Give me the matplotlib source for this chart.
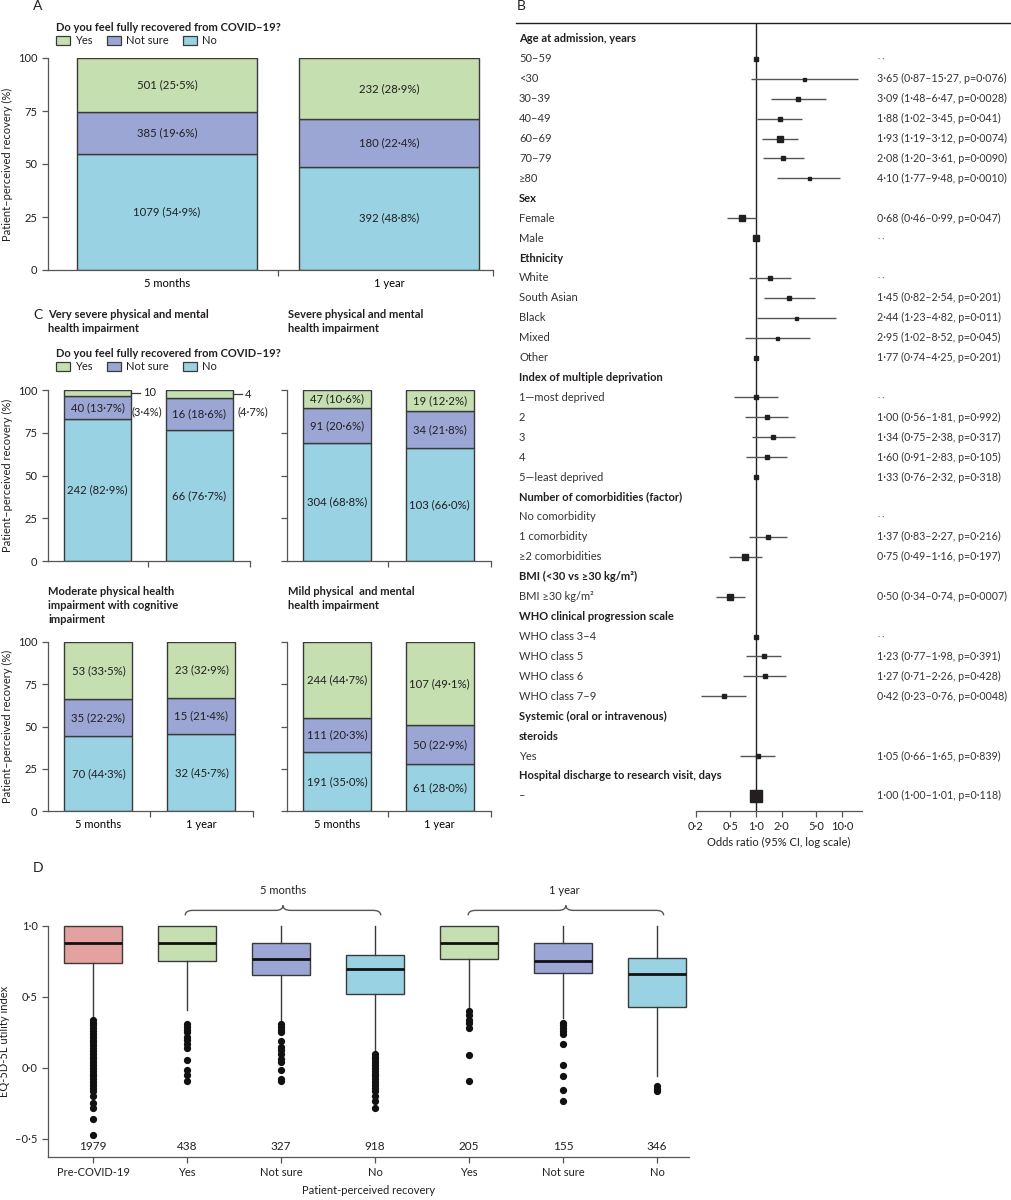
import matplotlib
matplotlib.use('Agg')
import matplotlib.pyplot as plt
import matplotlib.transforms as mtrans
from matplotlib.patches import Patch, PathPatch
from matplotlib.path import Path
from matplotlib.lines import Line2D
import numpy as np

plt.rcParams['font.family'] = ['Lato', 'DejaVu Sans']
plt.rcParams['font.size'] = 8

# ---------------- DATA ----------------
timepoints = ["5 months", "1 year"]
response_labels = ["Yes", "Not sure", "No"]

# Panel A (overall)
a_no_n = [1079, 392];   a_no_pct = [54.9, 48.8]
a_ns_n = [385, 180];    a_ns_pct = [19.6, 22.4]
a_yes_n = [501, 232];   a_yes_pct = [25.5, 28.9]

# Panel C (clusters)
c_titles = ["Very severe physical and mental\nhealth impairment",
            "Severe physical and mental\nhealth impairment",
            "Moderate physical health\nimpairment with cognitive\nimpairment",
            "Mild physical  and mental\nhealth impairment"]
c_no_n = [[242, 66], [304, 103], [70, 32], [191, 61]]
c_no_pct = [[82.9, 76.7], [68.8, 66.0], [44.3, 45.7], [35.0, 28.0]]
c_ns_n = [[40, 16], [91, 34], [35, 15], [111, 50]]
c_ns_pct = [[13.7, 18.6], [20.6, 21.8], [22.2, 21.4], [20.3, 22.9]]
c_yes_n = [[10, 4], [47, 19], [53, 23], [244, 107]]
c_yes_pct = [[3.4, 4.7], [10.6, 12.2], [33.5, 32.9], [44.7, 49.1]]

# Panel B (forest plot) rows
f_labels = ["Age at admission, years", "50–59", "<30", "30–39", "40–49", "60–69", "70–79", "≥80",
            "Sex", "Female", "Male",
            "Ethnicity", "White", "South Asian", "Black", "Mixed", "Other",
            "Index of multiple deprivation", "1—most deprived", "2", "3", "4", "5—least deprived",
            "Number of comorbidities (factor)", "No comorbidity", "1 comorbidity", "≥2 comorbidities",
            "BMI (<30 vs ≥30 kg/m²)", "BMI ≥30 kg/m²",
            "WHO clinical progression scale", "WHO class 3–4", "WHO class 5", "WHO class 6", "WHO class 7–9",
            "Systemic (oral or intravenous)", "steroids", "Yes",
            "Hospital discharge to research visit, days", "–"]
f_header = [1, 0, 0, 0, 0, 0, 0, 0,
            1, 0, 0,
            1, 0, 0, 0, 0, 0,
            1, 0, 0, 0, 0, 0,
            1, 0, 0, 0,
            1, 0,
            1, 0, 0, 0, 0,
            1, 1, 0,
            1, 0]
f_text = ["", "··", "3·65 (0·87–15·27, p=0·076)", "3·09 (1·48–6·47, p=0·0028)", "1·88 (1·02–3·45, p=0·041)",
          "1·93 (1·19–3·12, p=0·0074)", "2·08 (1·20–3·61, p=0·0090)", "4·10 (1·77–9·48, p=0·0010)",
          "", "0·68 (0·46–0·99, p=0·047)", "··",
          "", "··", "1·45 (0·82–2·54, p=0·201)", "2·44 (1·23–4·82, p=0·011)", "2·95 (1·02–8·52, p=0·045)",
          "1·77 (0·74–4·25, p=0·201)",
          "", "··", "1·00 (0·56–1·81, p=0·992)", "1·34 (0·75–2·38, p=0·317)", "1·60 (0·91–2·83, p=0·105)",
          "1·33 (0·76–2·32, p=0·318)",
          "", "··", "1·37 (0·83–2·27, p=0·216)", "0·75 (0·49–1·16, p=0·197)",
          "", "0·50 (0·34–0·74, p=0·0007)",
          "", "··", "1·23 (0·77–1·98, p=0·391)", "1·27 (0·71–2·26, p=0·428)", "0·42 (0·23–0·76, p=0·0048)",
          "", "", "1·05 (0·66–1·65, p=0·839)",
          "", "1·00 (1·00–1·01, p=0·118)"]
# plotted markers as drawn in the figure (row index, OR, lower, upper, weight)
f_rows = [1, 2, 3, 4, 5, 6, 7, 9, 10, 12, 13, 14, 15, 16, 18, 19, 20, 21, 22, 25, 26, 28, 30, 31, 32, 33, 36, 38]
f_or = [1.00, 3.65, 3.09, 1.88, 1.93, 2.08, 4.10, 0.68, 1.00, 1.45, 2.44, 2.95, 1.77, 1.00,
        1.00, 1.34, 1.60, 1.33, 1.00, 1.37, 0.75, 0.50, 1.00, 1.23, 1.27, 0.42, 1.05, 1.00]
f_lo = [None, 0.87, 1.48, 1.02, 1.19, 1.20, 1.77, 0.46, None, 0.82, 1.23, 1.02, 0.74, None,
        0.56, 0.75, 0.91, 0.76, None, 0.83, 0.49, 0.34, None, 0.77, 0.71, 0.23, 0.66, 1.00]
f_hi = [None, 15.27, 6.47, 3.45, 3.12, 3.61, 9.48, 0.99, None, 2.54, 4.82, 8.52, 4.25, None,
        1.81, 2.38, 2.83, 2.32, None, 2.27, 1.16, 0.74, None, 1.98, 2.26, 0.76, 1.65, 1.01]
f_weight = [5, 3, 4, 5, 6, 5, 3, 5.5, 6.5, 4, 3.5, 3, 3, 4.5,
            5, 5, 5, 5, 4.5, 5, 6, 5.5, 4.5, 5, 4.5, 5, 5, 12]
f_ticks = [0.2, 0.5, 1.0, 2.0, 5.0, 10.0]
f_ticklabels = ["0·2", "0·5", "1·0", "2·0", "5·0", "10·0"]

# Panel D (boxplots)
d_labels = ["Pre-COVID-19", "Yes", "Not sure", "No", "Yes", "Not sure", "No"]
d_n = [1979, 438, 327, 918, 205, 155, 346]
d_q1 = [0.74, 0.755, 0.655, 0.52, 0.77, 0.666, 0.43]
d_med = [0.88, 0.88, 0.77, 0.694, 0.88, 0.753, 0.661]
d_q3 = [1.0, 1.0, 0.88, 0.795, 1.0, 0.88, 0.772]
d_whislo = [0.36, 0.41, 0.325, 0.113, 0.41, 0.35, -0.056]
d_whishi = [1.0, 1.0, 1.0, 1.0, 1.0, 1.0, 1.0]
d_fliers = [
    [0.34, 0.32, 0.30, 0.28, 0.26, 0.24, 0.22, 0.20, 0.18, 0.16, 0.14, 0.12, 0.10, 0.08, 0.06, 0.04,
     0.02, 0.0, -0.02, -0.04, -0.06, -0.08, -0.10, -0.12, -0.14, -0.16, -0.20, -0.25, -0.28, -0.36, -0.47],
    [0.31, 0.29, 0.27, 0.25, 0.22, 0.20, 0.17, 0.14, 0.054, -0.016, -0.05, -0.094],
    [0.31, 0.29, 0.27, 0.25, 0.19, 0.15, 0.13, 0.10, 0.066, 0.04, -0.016, -0.075, -0.09],
    [0.10, 0.08, 0.06, 0.04, 0.02, 0.0, -0.02, -0.04, -0.06, -0.08, -0.10, -0.12, -0.14, -0.16,
     -0.20, -0.23, -0.28],
    [0.40, 0.37, 0.34, 0.32, 0.28, 0.09, -0.09],
    [0.32, 0.30, 0.28, 0.26, 0.24, 0.167, 0.024, -0.056, -0.158, -0.235],
    [-0.127, -0.146, -0.165],
]
d_groups = ["5 months", "1 year"]

# ---------------- STYLE ----------------
C_YES = '#c5dfb1'
C_NS = '#9ba6d5'
C_NO = '#99d3e3'
C_PRE = '#e3a29f'
EDGE = '#3a3a3a'
TXT = '#231f20'
AX = '#555555'

W, H = 1012, 1200
fig = plt.figure(figsize=(W / 100, H / 100), dpi=100)


def add_ax(x0, y0, x1, y1):
    return fig.add_axes([x0 / W, 1 - y1 / H, (x1 - x0) / W, (y1 - y0) / H])


def fmt(n, p):
    return f"{n} ({p:.1f}%)".replace('.', '·')


def style_ax(ax):
    for s in ['top', 'right']:
        ax.spines[s].set_visible(False)
    for s in ['left', 'bottom']:
        ax.spines[s].set_color(AX)
        ax.spines[s].set_linewidth(0.9)
    ax.tick_params(colors=AX, labelcolor=TXT, labelsize=8, length=4, width=0.9, direction='out')


def stacked(ax, no_n, no_p, ns_n, ns_p, yes_n, yes_p, width, xlim, show_ylab, xlabels):
    x = np.arange(2)
    ax.bar(x, no_p, width, color=C_NO, edgecolor=EDGE, linewidth=1)
    ax.bar(x, ns_p, width, bottom=no_p, color=C_NS, edgecolor=EDGE, linewidth=1)
    ax.bar(x, yes_p, width, bottom=np.add(no_p, ns_p), color=C_YES, edgecolor=EDGE, linewidth=1)
    for i in range(2):
        ax.text(x[i], no_p[i] / 2, fmt(no_n[i], no_p[i]), ha='center', va='center', color=TXT, fontsize=8.2)
        ax.text(x[i], no_p[i] + ns_p[i] / 2, fmt(ns_n[i], ns_p[i]), ha='center', va='center', color=TXT,
                fontsize=8.2)
        if yes_p[i] > 6:
            ax.text(x[i], no_p[i] + ns_p[i] + yes_p[i] / 2, fmt(yes_n[i], yes_p[i]), ha='center', va='center',
                    color=TXT, fontsize=8.2)
    ax.set_xlim(*xlim)
    ax.set_ylim(0, 100)
    style_ax(ax)
    ax.set_yticks([0, 25, 50, 75, 100])
    if not show_ylab:
        ax.tick_params(axis='y', labelleft=False)
    ax.set_xticks([0.5, xlim[1]])
    ax.set_xticklabels([])
    ax.set_xticks([0, 1], xlabels if xlabels else ['', ''], minor=True)
    ax.tick_params(axis='x', which='minor', length=0, pad=6)
    if show_ylab:
        ax.set_ylabel("Patient–perceived recovery (%)", color=TXT, fontsize=8)


legend_handles = [Patch(facecolor=C_YES, edgecolor=EDGE, linewidth=0.9, label='Yes'),
                  Patch(facecolor=C_NS, edgecolor=EDGE, linewidth=0.9, label='Not sure'),
                  Patch(facecolor=C_NO, edgecolor=EDGE, linewidth=0.9, label='No')]


def add_legend(x, y):
    leg = fig.legend(handles=legend_handles, loc='upper left', bbox_to_anchor=(x / W, 1 - y / H), ncol=3,
                     frameon=False, title='Do you feel fully recovered from COVID–19?',
                     title_fontproperties={'weight': 'bold', 'size': 8}, fontsize=8,
                     handlelength=1.3, handleheight=0.9, handletextpad=0.4, columnspacing=1.3,
                     borderpad=0, borderaxespad=0, alignment='left', labelspacing=0.2)
    for t in leg.get_texts():
        t.set_color(TXT)
    leg.get_title().set_color(TXT)
    return leg


# ---------------- PANEL A ----------------
axA = add_ax(48, 58, 493, 270)
stacked(axA, a_no_n, a_no_pct, a_ns_n, a_ns_pct, a_yes_n, a_yes_pct, 0.81, (-0.536, 1.468), True, timepoints)
add_legend(56, 22)
fig.text(33 / W, 1 - 6 / H, 'A', fontsize=10, color=TXT, va='center', ha='left')

# ---------------- PANEL C ----------------
c_boxes = [(48, 390, 250, 561), (287, 390, 491, 561), (48, 642, 253, 811), (287, 642, 491, 811)]
c_title_pos = [(48, 309), (288, 309), (48, 586), (288, 586)]
c_axes = []
for k in range(4):
    ax = add_ax(*c_boxes[k])
    stacked(ax, c_no_n[k], c_no_pct[k], c_ns_n[k], c_ns_pct[k], c_yes_n[k], c_yes_pct[k], 0.66,
            (-0.49, 1.5), k % 2 == 0, timepoints if k >= 2 else None)
    c_axes.append(ax)
    fig.text(c_title_pos[k][0] / W, 1 - c_title_pos[k][1] / H, c_titles[k], fontsize=8, weight='bold',
             color=TXT, va='top', ha='left', linespacing=1.35)
add_legend(56, 348)
fig.text(33 / W, 1 - 315 / H, 'C', fontsize=10, color=TXT, va='center', ha='left')

# small "Yes" annotations for very severe cluster
axc = c_axes[0]
for i in range(2):
    ytop = c_no_pct[0][i] + c_ns_pct[0][i] + c_yes_pct[0][i] / 2
    axc.plot([i + 0.33, i + 0.42], [ytop, ytop], color=EDGE, lw=0.9, clip_on=False)
    axc.text(i + 0.45, ytop, f"{c_yes_n[0][i]}", ha='left', va='center', color=TXT, fontsize=8, clip_on=False)
    axc.text(i + 0.335 + 0.04 * i, 87.5, f"({c_yes_pct[0][i]:.1f}%)".replace('.', '·'), ha='left',
             va='center', color=TXT, fontsize=8, clip_on=False)

# ---------------- PANEL B ----------------
axB = add_ax(696, 23, 862, 811)
axB.set_xscale('log')
axB.set_xlim(0.2, 17.2)
axB.set_ylim(38.76, -0.8)
for s in ['top', 'right', 'left']:
    axB.spines[s].set_visible(False)
axB.spines['bottom'].set_color(AX)
axB.spines['bottom'].set_linewidth(0.9)
axB.set_yticks([])
axB.set_xticks(f_ticks)
axB.set_xticklabels(f_ticklabels)
axB.xaxis.set_minor_locator(matplotlib.ticker.NullLocator())
axB.tick_params(axis='x', colors=AX, labelcolor=TXT, labelsize=8, length=4, width=0.9)
axB.set_xlabel("Odds ratio (95% CI, log scale)", fontsize=8, color=TXT, labelpad=3)
axB.axvline(1.0, color=TXT, lw=1)
for r, o, lo, hi, w in zip(f_rows, f_or, f_lo, f_hi, f_weight):
    if lo is not None:
        axB.plot([lo, hi], [r, r], color='#555555', lw=1, solid_capstyle='butt')
    axB.plot([o], [r], marker='s', ms=w * 0.72, color=TXT, mec=TXT, lw=0)
tB = mtrans.blended_transform_factory(fig.transFigure, axB.transData)
for i, (lab, hd, txt) in enumerate(zip(f_labels, f_header, f_text)):
    axB.text(519 / W, i, lab, transform=tB, ha='left', va='center', fontsize=8,
             weight='bold' if hd else 'normal', color=TXT if hd else '#333333')
    if txt == '··':
        axB.text(878 / W, i, '· ·', transform=tB, ha='left', va='center', fontsize=6, color='#666666')
    elif txt:
        axB.text(877 / W, i, txt, transform=tB, ha='left', va='center', fontsize=7.7, color='#333333')
fig.add_artist(Line2D([516 / W, 1010 / W], [1 - 23 / H, 1 - 23 / H], color=TXT, lw=1))
fig.text(517 / W, 1 - 6 / H, 'B', fontsize=10, color=TXT, va='center', ha='left')

# ---------------- PANEL D ----------------
axD = add_ax(48, 926, 689, 1157)
stats = []
for i in range(7):
    stats.append(dict(q1=d_q1[i], med=d_med[i], q3=d_q3[i], whislo=d_whislo[i], whishi=d_whishi[i],
                      fliers=np.array(d_fliers[i])))
box_colors = [C_PRE, C_YES, C_NS, C_NO, C_YES, C_NS, C_NO]
bp = axD.bxp(stats, positions=range(7), widths=0.62, patch_artist=True, showcaps=False,
             boxprops=dict(edgecolor=EDGE, linewidth=1),
             medianprops=dict(color='#111111', linewidth=2),
             whiskerprops=dict(color=EDGE, linewidth=1),
             flierprops=dict(marker='o', markerfacecolor='#111111', markeredgecolor='#111111', markersize=4.2))
for patch, c in zip(bp['boxes'], box_colors):
    patch.set_facecolor(c)
for art in bp['whiskers'] + bp['medians'] + bp['boxes']:
    art.set_clip_on(False)
axD.set_xlim(-0.48, 6.34)
axD.set_ylim(-0.627, 1.0)
style_ax(axD)
axD.set_yticks([-0.5, 0, 0.5, 1.0])
axD.set_yticklabels(['–0·5', '0·0', '0·5', '1·0'])
axD.set_xticks(range(7))
axD.set_xticklabels(d_labels)
axD.set_ylabel("EQ-5D-5L utility index", fontsize=8, color=TXT)
axD.set_xlabel("Patient-perceived recovery", fontsize=8, color=TXT, labelpad=5)
for i in range(7):
    axD.text(i, -0.553, str(d_n[i]), ha='center', va='center', fontsize=8.5, color=TXT)


def brace(ax, x0, x1, y, h):
    xm = (x0 + x1) / 2
    d = 0.08
    verts = [(x0, y - h), (x0, y), (x0 + d, y), (xm - d, y), (xm, y), (xm, y + h),
             (xm, y), (xm + d, y), (x1 - d, y), (x1, y), (x1, y - h)]
    codes = [Path.MOVETO, Path.CURVE3, Path.CURVE3, Path.LINETO, Path.CURVE3, Path.CURVE3,
             Path.CURVE3, Path.CURVE3, Path.LINETO, Path.CURVE3, Path.CURVE3]
    ax.add_patch(PathPatch(Path(verts, codes), fill=False, edgecolor='#555555', lw=1, clip_on=False))


brace(axD, 0.98, 3.06, 1.11, 0.035)
brace(axD, 3.99, 6.07, 1.11, 0.035)
axD.text(2.02, 1.25, d_groups[0], ha='center', va='center', fontsize=8, color=TXT)
axD.text(5.01, 1.25, d_groups[1], ha='center', va='center', fontsize=8, color=TXT)
fig.text(33 / W, 1 - 868 / H, 'D', fontsize=10, color=TXT, va='center', ha='left')

fig.savefig('out.png', dpi=100)
